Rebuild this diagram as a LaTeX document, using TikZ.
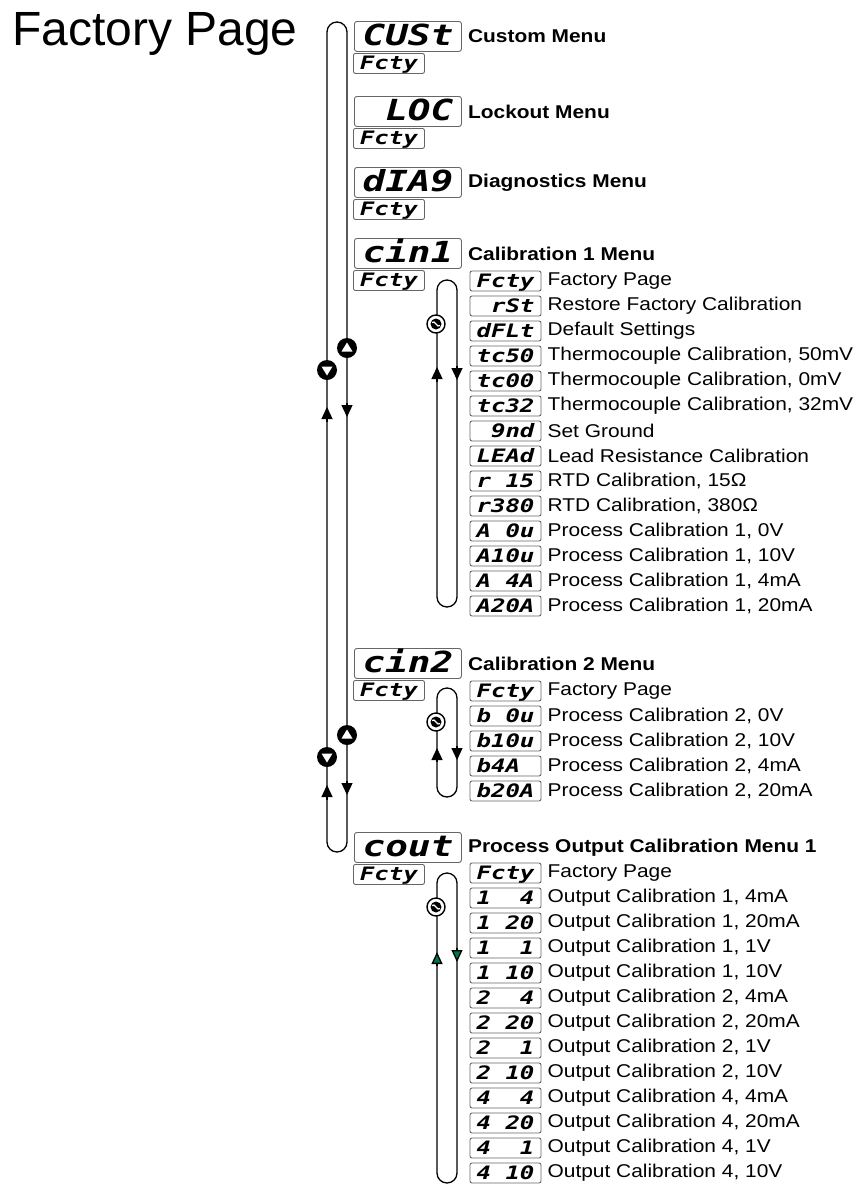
\documentclass[tikz,border=0pt]{standalone}
\usepackage{fontspec}
\setmainfont{Liberation Sans}
\newfontfamily\labelfont{Liberation Sans}[FakeStretch=1.13]
\newfontfamily\segfont{DejaVu Sans Mono}[FakeStretch=1.3]
\usetikzlibrary{arrows.meta}
\definecolor{tipgreen}{RGB}{0,120,70}
\newcommand{\bl}{\hphantom{0}}
\tikzset{
  bigdisp/.style={draw=black!60, line width=0.9pt, rounded corners=2.5pt, minimum width=107pt,
    minimum height=30pt, inner sep=0pt, text height=21pt, text depth=2pt,
    font=\segfont\bfseries\itshape\fontsize{29}{29}\selectfont},
  smalldisp/.style={draw=black!60, line width=0.9pt, rounded corners=2pt, minimum width=71pt,
    minimum height=20pt, inner sep=0pt, text height=13.5pt, text depth=1.5pt,
    font=\segfont\bfseries\itshape\fontsize{18.5}{18.5}\selectfont},
  menulabel/.style={anchor=west, inner sep=0pt, font=\labelfont\bfseries\fontsize{18.5}{20}\selectfont},
  itemlabel/.style={anchor=west, inner sep=0pt, font=\labelfont\fontsize{18.5}{20}\selectfont},
  loopline/.style={line width=1.3pt, rounded corners=10pt},
  tipline/.style={line width=1.3pt, -{Triangle[width=11pt,length=12pt]}},
  greentip/.style={line width=1.3pt, -{Triangle[width=11pt,length=12pt,fill=tipgreen]}},
  upkey/.pic={\fill (0,0) circle (10pt); \fill[white] (-5.5,3.5) -- (5.5,3.5) -- (0,-5.5) -- cycle;},
  downkey/.pic={\fill (0,0) circle (10pt); \fill[white] (-5.5,-3.5) -- (5.5,-3.5) -- (0,5.5) -- cycle;},
  scrollkey/.pic={\draw[fill=white, line width=1.4pt] (0,0) circle (9pt); \fill (0,0) circle (5.5pt);
    \draw[white, line width=1.2pt] (-4,-1.5) .. controls (-1,-5) and (1,5) .. (4,1.5);}
}
\begin{document}
\begin{tikzpicture}[x=1pt,y=-1pt]
\useasboundingbox (0,0) rectangle (856,1184);
\node[anchor=base west, inner sep=0pt, font=\fontsize{48}{48}\selectfont] (title) at (12,45) {Factory Page};

% loops
\draw[loopline] (327,22) rectangle (347,852);
\draw[loopline] (437,280) rectangle (457,607);
\draw[loopline] (437,688) rectangle (457,797);
\draw[loopline] (437,873) rectangle (457,1183);

% flow arrows
\draw[tipline] (327,422) -- (327,407);
\draw[tipline] (327,800) -- (327,785);
\draw[tipline] (347,403) -- (347,417);
\draw[tipline] (347,781) -- (347,795);
\draw[tipline] (437,382) -- (437,367);
\draw[tipline] (457,366) -- (457,380);
\draw[tipline] (437,762) -- (437,748);
\draw[tipline] (457,746) -- (457,760);
\draw[greentip] (437,966) -- (437,952);
\draw[greentip] (457,948) -- (457,962);

% keys
\pic at (347,348) {upkey};
\pic at (347,735) {upkey};
\pic at (327,370) {downkey};
\pic at (327,757) {downkey};
\pic at (436,324) {scrollkey};
\pic at (436,722) {scrollkey};
\pic at (436,907) {scrollkey};

% menus
\foreach \name/\code/\y/\lbl in {cust/CUSt/21/Custom Menu, loc/{\bl LOC}/96/Lockout Menu,
    diag/dIA9/167/Diagnostics Menu, cina/cin1/238/Calibration 1 Menu,
    cinb/cin2/648/Calibration 2 Menu, cout/cout/832/Process Output Calibration Menu 1} {
  \node[bigdisp, anchor=north west] (\name) at (354,\y) {\code};
  \node[smalldisp, anchor=north west] (\name f) at (353,\y+32) {Fcty};
  \node[menulabel] (\name l) at ([xshift=6pt]\name.east) {\lbl};
}

% calibration 1
\foreach \code/\txt [count=\i from 0] in {Fcty/Factory Page, {\bl rSt}/Restore Factory Calibration,
    dFLt/Default Settings, tc50/{Thermocouple Calibration, 50mV}, tc00/{Thermocouple Calibration, 0mV},
    tc32/{Thermocouple Calibration, 32mV}, {\bl 9nd}/Set Ground, LEAd/Lead Resistance Calibration,
    {r\bl 15}/{RTD Calibration, 15Ω}, r380/{RTD Calibration, 380Ω}, {A\bl 0u}/{Process Calibration 1, 0V},
    A10u/{Process Calibration 1, 10V}, {A\bl 4A}/{Process Calibration 1, 4mA}, A20A/{Process Calibration 1, 20mA}} {
  \node[smalldisp] (ca\i) at (505.5,281+25*\i) {\code};
  \node[itemlabel] (ca\i l) at ([xshift=6pt]ca\i.east) {\txt};
}

% calibration 2
\foreach \code/\txt [count=\i from 0] in {Fcty/Factory Page, {b\bl 0u}/{Process Calibration 2, 0V},
    b10u/{Process Calibration 2, 10V}, {b4A\bl}/{Process Calibration 2, 4mA}, b20A/{Process Calibration 2, 20mA}} {
  \node[smalldisp] (cb\i) at (505.5,691+25*\i) {\code};
  \node[itemlabel] (cb\i l) at ([xshift=6pt]cb\i.east) {\txt};
}

% process output
\foreach \code/\txt [count=\i from 0] in {Fcty/Factory Page,
    {1\bl\bl 4}/{Output Calibration 1, 4mA}, {1\bl 20}/{Output Calibration 1, 20mA},
    {1\bl\bl 1}/{Output Calibration 1, 1V}, {1\bl 10}/{Output Calibration 1, 10V},
    {2\bl\bl 4}/{Output Calibration 2, 4mA}, {2\bl 20}/{Output Calibration 2, 20mA},
    {2\bl\bl 1}/{Output Calibration 2, 1V}, {2\bl 10}/{Output Calibration 2, 10V},
    {4\bl\bl 4}/{Output Calibration 4, 4mA}, {4\bl 20}/{Output Calibration 4, 20mA},
    {4\bl\bl 1}/{Output Calibration 4, 1V}, {4\bl 10}/{Output Calibration 4, 10V}} {
  \node[smalldisp] (co\i) at (505.5,873+25*\i) {\code};
  \node[itemlabel] (co\i l) at ([xshift=6pt]co\i.east) {\txt};
}
\end{tikzpicture}
\end{document}
